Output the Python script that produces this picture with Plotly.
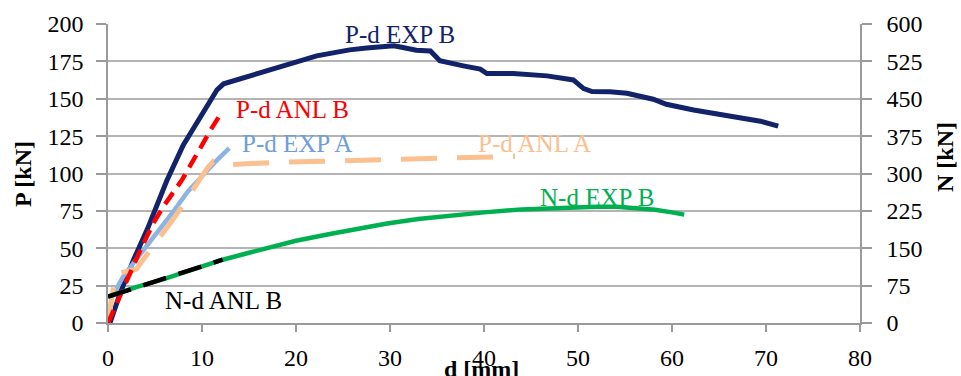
import plotly.graph_objects as go

# ---------------- data ----------------
# P-d EXP B (left axis, kN)
expB_d = [0, 0.2, 1.3, 2.7, 4.2, 6.24, 8.0, 9.8, 11.6, 12.3, 15.1, 18.65, 22.2, 25.7, 27.5, 30.4, 31.1,
          32.8, 34.3, 35.3, 37.8, 39.6, 40.3, 43.1, 46.7, 48.1, 49.5, 50.6, 51.5, 53.4, 55.2, 58.0,
          59.4, 62.3, 65.8, 69.4, 71.3]
expB_P = [0, 0, 20, 42, 63, 95, 119, 138, 156, 160, 165.6, 172, 178.7, 182.7, 183.9, 185.5, 184.6,
          182.5, 182, 175.4, 172, 169.8, 166.9, 166.9, 165.3, 164.2, 162.6, 156.8, 154.8, 154.6, 153.7, 149.7,
          146.3, 142.5, 138.5, 135, 131.7]

# P-d ANL B
anlB_d = [0, 1.3, 3.0, 3.6, 4.85, 5.9, 7.9, 9.5, 11.0, 12.1]
anlB_P = [0, 19, 42, 51, 67, 78, 96, 114, 130, 141]

# P-d EXP A
expA_d = [0, 0.4, 1.6, 3.2, 5.3, 7.0, 8.5, 9.8, 11.6, 12.9]
expA_P = [0, 17, 31, 44, 60, 75, 88, 97, 109, 117]

# P-d ANL A
anlA_d = [0, 0.4, 0.8, 2.0, 3.0, 3.7, 5.3, 7.0, 8.5, 9.7, 10.6, 11.2, 12.0, 13.0, 18.0, 25.0, 35.0, 43.3]
anlA_P = [0, 18, 33, 34.5, 36, 42, 55, 70, 84, 96, 104, 108, 106, 106, 107.5, 108.5, 110, 111.5]

# N-d EXP B (right axis, kN)
nexpB_d = [0, 3, 6, 9, 12.2, 15, 17.5, 20, 23.6, 26.5, 29.7, 33, 35.8, 40, 44, 48, 52, 54.1, 56,
           58.2, 60, 61.3]
nexpB_N = [52.8, 72, 88.5, 106.5, 127, 141, 153, 165, 178.5, 189, 199.5, 208.5, 214.5, 222, 228, 231.6,
           233.4, 233.4, 231, 227.4, 222, 217.5]

# N-d ANL B
nanlB_d = [0, 12.2]
nanlB_N = [52.8, 127]

x_ticks = [0, 10, 20, 30, 40, 50, 60, 70, 80]
p_ticks = [0, 25, 50, 75, 100, 125, 150, 175, 200]
n_ticks = [0, 75, 150, 225, 300, 375, 450, 525, 600]

labels = ["P-d EXP B", "P-d ANL B", "P-d EXP A", "P-d ANL A", "N-d EXP B", "N-d ANL B"]
label_x = [31.1, 19.6, 20.1, 45.4, 52.0, 12.3]
label_P = [193, 142.5, 120.3, 120, 84.2, 15.2]

# ---------------- styles ----------------
NAVY = "#13236a"
RED = "#ff0000"
LBLUE = "#8db3e2"
PEACH = "#fac090"
GREEN = "#00b050"
BLACK = "#000000"
label_colors = [NAVY, RED, "#6f9edb", PEACH, GREEN, BLACK]
FONT = "Liberation Serif"

fig = go.Figure()
fig.add_trace(go.Scatter(x=nexpB_d, y=nexpB_N, yaxis="y2", mode="lines",
                         line=dict(color=GREEN, width=4.5), name="N-d EXP B"))
fig.add_trace(go.Scatter(x=nanlB_d, y=nanlB_N, yaxis="y2", mode="lines",
                         line=dict(color=BLACK, width=4.5, dash="24px,13px"), name="N-d ANL B"))
fig.add_trace(go.Scatter(x=expB_d, y=expB_P, mode="lines",
                         line=dict(color=NAVY, width=5), name="P-d EXP B"))
fig.add_trace(go.Scatter(x=expA_d, y=expA_P, mode="lines",
                         line=dict(color=LBLUE, width=4.5), name="P-d EXP A"))
fig.add_trace(go.Scatter(x=anlA_d, y=anlA_P, mode="lines",
                         line=dict(color=PEACH, width=5, dash="36px,20px"), name="P-d ANL A"))
fig.add_trace(go.Scatter(x=anlB_d, y=anlB_P, mode="lines",
                         line=dict(color=RED, width=4.5, dash="14px,8px"), name="P-d ANL B"))

for t, xx, yy, c in zip(labels, label_x, label_P, label_colors):
    fig.add_annotation(x=xx, y=yy, xref="x", yref="y", text=t, showarrow=False,
                       font=dict(family=FONT, size=25, color=c), xanchor="center", yanchor="middle")

# axis titles
fig.add_annotation(text="<b>P [kN]</b>", xref="paper", yref="paper", x=-0.1137, y=0.5,
                   textangle=-90, showarrow=False, xanchor="center", yanchor="middle",
                   font=dict(family=FONT, size=24, color="black"))
fig.add_annotation(text="<b>N [kN]</b>", xref="paper", yref="paper", x=1.113, y=0.555,
                   textangle=-90, showarrow=False, xanchor="center", yanchor="middle",
                   font=dict(family=FONT, size=24, color="black"))
fig.add_annotation(text="<b>d [mm]</b>", xref="paper", yref="paper", x=0.497, y=-0.105,
                   showarrow=False, xanchor="center", yanchor="top",
                   font=dict(family=FONT, size=24, color="black"))

axis_common = dict(showline=True, linecolor="#9a9a9a", linewidth=1.5, ticks="outside",
                   tickcolor="#9a9a9a", tickwidth=1.5, zeroline=False, automargin=False,
                   tickfont=dict(family=FONT, size=24, color="black"))

fig.update_layout(
    width=961, height=376,
    margin=dict(l=108, r=101, t=24, b=53),
    paper_bgcolor="white", plot_bgcolor="white",
    font=dict(family=FONT, size=24, color="black"),
    showlegend=False,
    xaxis=dict(range=[0, 80], tickvals=x_ticks, ticklen=7, ticklabelstandoff=5,
               showgrid=False, **axis_common),
    yaxis=dict(range=[0, 200], tickvals=p_ticks, ticklen=10, ticklabelstandoff=8, showgrid=True,
               gridcolor="#b4b4b4", gridwidth=1.5, **axis_common),
    yaxis2=dict(range=[0, 600], tickvals=n_ticks, ticklen=10, ticklabelstandoff=10, overlaying="y",
                side="right", showgrid=False, **axis_common),
)

fig.write_html("out.html")
